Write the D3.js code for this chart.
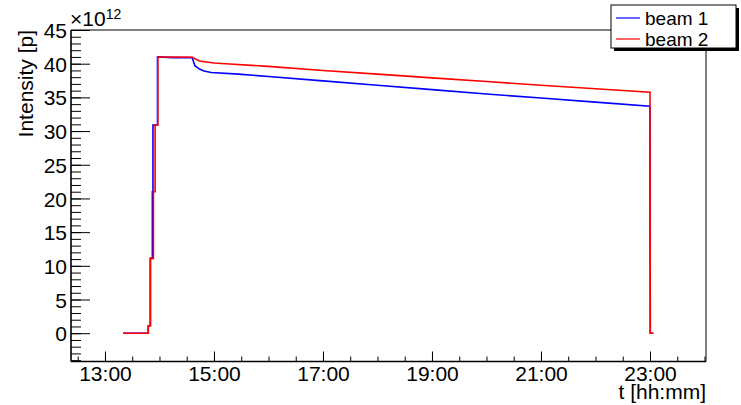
<!DOCTYPE html>
<html>
<head>
<meta charset="utf-8">
<script src="https://cdn.jsdelivr.net/npm/d3@7"></script>
<style>
  html, body { margin: 0; padding: 0; background: #fff; }
  svg, svg text { font-family: "Liberation Sans", Arial, sans-serif; }
  svg { display: block; }
</style>
</head>
<body>
<svg id="chart" width="741" height="405"></svg>
<script>
// Beam intensity vs. time (units of 1e12 protons)
const beam1Time = ["13:20:00","13:47:40","13:47:40","13:49:50","13:49:50","13:52:10","13:52:10","13:52:50","13:52:50","13:57:50","13:57:50","14:15:00","14:36:00","14:39:00","14:44:00","14:49:00","14:57:00","15:27:00","16:00:00","17:00:00","18:00:00","19:00:00","20:00:00","21:00:00","22:00:00","23:00:00","23:00:20","23:03:40"];
const beam1Value = [0,0,1.1,1.1,11.1,11.1,21.0,21.0,30.9,30.9,41.0,40.9,40.9,39.7,39.2,38.9,38.7,38.45,38.1,37.45,36.8,36.15,35.5,34.9,34.3,33.7,0,0];

const beam2Time = ["13:20:00","13:47:40","13:47:40","13:50:10","13:50:10","13:53:20","13:53:20","13:55:10","13:55:10","13:58:10","13:58:10","14:15:00","14:36:00","14:44:00","15:00:00","15:17:00","16:00:00","17:00:00","18:00:00","19:00:00","20:00:00","21:00:00","22:00:00","23:00:00","23:00:20","23:03:40"];
const beam2Value = [0,0,1.1,1.1,11.1,11.1,21.0,21.0,30.9,30.9,41.0,41.0,40.95,40.4,40.1,39.95,39.6,39.0,38.45,37.9,37.35,36.8,36.28,35.75,0,0];

const xTickLabels = ["13:00","15:00","17:00","19:00","21:00","23:00"];
const yTickValues = [0,5,10,15,20,25,30,35,40,45];
const legendLabels = ["beam 1","beam 2"];
const seriesColors = ["#0000ff","#ff0000"];

(function draw() {
  const day = "2012-06-01 ";
  const parseT = d3.timeParse("%Y-%m-%d %H:%M:%S");
  const parseHM = d3.timeParse("%Y-%m-%d %H:%M");

  const svg = d3.select("#chart");
  const pL = 71, pR = 706, pT = 30, pB = 361.5;
  const fs = 21;

  const x = d3.scaleTime()
    .domain([parseT(day + "12:22:36"), parseT("2012-06-02 00:01:40")])
    .range([pL, pR]);
  const y = d3.scaleLinear().domain([-4.2, 45]).range([pB, pT]);

  // frame (top and right edges)
  svg.append("path")
    .attr("d", `M${pL},${pT}H${pR}V${pB}`)
    .attr("fill", "none").attr("stroke", "#000").attr("stroke-width", 1);

  // series
  const series = [
    { t: beam1Time, v: beam1Value, c: seriesColors[0] },
    { t: beam2Time, v: beam2Value, c: seriesColors[1] }
  ];
  const line = d3.line().x(d => x(d[0])).y(d => y(d[1]));
  svg.append("clipPath").attr("id", "plotclip")
    .append("rect").attr("x", pL).attr("y", pT).attr("width", pR - pL).attr("height", pB - pT);
  const g = svg.append("g").attr("clip-path", "url(#plotclip)");
  series.forEach(s => {
    const pts = s.t.map((t, i) => [parseT(day + t), s.v[i]]);
    g.append("path").datum(pts)
      .attr("d", line)
      .attr("fill", "none")
      .attr("stroke", s.c)
      .attr("stroke-width", 1.6)
      .attr("stroke-linejoin", "miter");
  });

  // x axis: major ticks every 2 h, minor every 30 min, drawn inward
  const xMajor = xTickLabels.map(s => parseHM(day + s));
  const xMinor = d3.timeMinute.every(30).range(x.domain()[0], x.domain()[1]);
  const xAxisMinor = d3.axisBottom(x).tickValues(xMinor).tickSize(-5).tickFormat("");
  const xAxisMajor = d3.axisBottom(x).tickValues(xMajor).tickSize(-10).tickPadding(0).tickFormat(d3.timeFormat("%H:%M"));
  const gxm = svg.append("g").attr("transform", `translate(0,${pB})`).call(xAxisMinor);
  const gx = svg.append("g").attr("transform", `translate(0,${pB})`).call(xAxisMajor);
  [gxm, gx].forEach(a => {
    a.attr("font-family", null);
    a.select(".domain").remove();
    a.selectAll(".tick line").attr("stroke", "#000").attr("stroke-width", 1);
  });
  gx.selectAll(".tick text")
    .attr("y", 19.5).attr("dy", null)
    .attr("fill", "#000").attr("font-size", fs);
  svg.append("line").attr("x1", pL).attr("x2", pR).attr("y1", pB).attr("y2", pB)
    .attr("stroke", "#000").attr("stroke-width", 1.6);

  // y axis: major every 5, minor every 1, drawn inward
  const yMinor = d3.range(-4, 46, 1);
  const yAxisMinor = d3.axisLeft(y).tickValues(yMinor).tickSize(-10).tickFormat("");
  const yAxisMajor = d3.axisLeft(y).tickValues(yTickValues).tickSize(-19).tickPadding(4).tickFormat(d3.format("d"));
  const gym = svg.append("g").attr("transform", `translate(${pL},0)`).call(yAxisMinor);
  const gy = svg.append("g").attr("transform", `translate(${pL},0)`).call(yAxisMajor);
  [gym, gy].forEach(a => {
    a.attr("font-family", null);
    a.select(".domain").remove();
    a.selectAll(".tick line").attr("stroke", "#000").attr("stroke-width", 1);
  });
  gy.selectAll(".tick text")
    .attr("x", -4).attr("dy", "0.36em")
    .attr("fill", "#000").attr("font-size", fs);
  svg.append("line").attr("x1", pL).attr("x2", pL).attr("y1", pT).attr("y2", pB)
    .attr("stroke", "#000").attr("stroke-width", 1.6);

  // exponent label
  const ex = svg.append("text").attr("x", 70).attr("y", 26).attr("font-size", fs).attr("fill", "#000");
  ex.append("tspan").text("×10");
  ex.append("tspan").attr("font-size", 14).attr("dy", -7).text("12");

  // axis titles
  svg.append("text")
    .attr("transform", `translate(33,${pT}) rotate(-90)`)
    .attr("text-anchor", "end").attr("font-size", fs).attr("fill", "#000")
    .text("Intensity [p]");
  svg.append("text")
    .attr("x", pR).attr("y", 399)
    .attr("text-anchor", "end").attr("font-size", fs).attr("fill", "#000")
    .text("t [hh:mm]");

  // legend with drop shadow
  const lx = 611, ly = 5, lw = 125, lh = 43;
  svg.append("rect").attr("x", lx + 3).attr("y", ly + 3).attr("width", lw).attr("height", lh).attr("fill", "#000");
  svg.append("rect").attr("x", lx).attr("y", ly).attr("width", lw).attr("height", lh)
    .attr("fill", "#fff").attr("stroke", "#000").attr("stroke-width", 1);
  legendLabels.forEach((lab, i) => {
    const cy = ly + 13 + i * 21;
    svg.append("line").attr("x1", lx + 5).attr("x2", lx + 29).attr("y1", cy).attr("y2", cy)
      .attr("stroke", seriesColors[i]).attr("stroke-width", 1.2);
    svg.append("text").attr("x", lx + 34).attr("y", cy + 7)
      .attr("font-size", 19).attr("fill", "#000").text(lab);
  });
})();
</script>
</body>
</html>
